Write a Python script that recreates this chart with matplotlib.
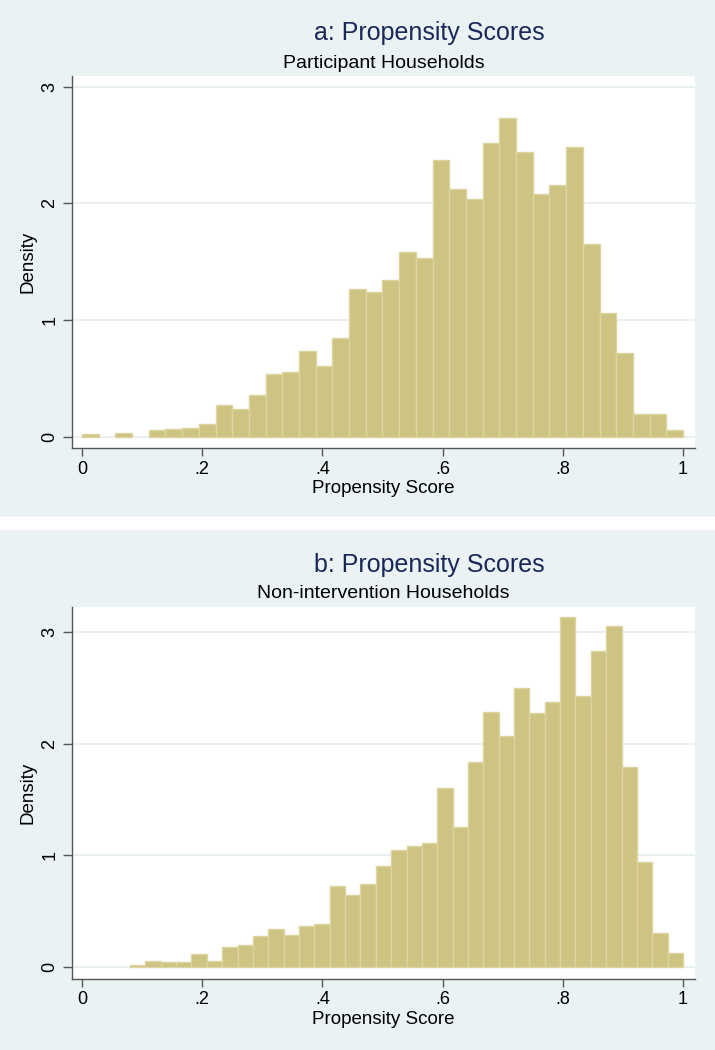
import numpy as np
import matplotlib
matplotlib.use("Agg")
import matplotlib.pyplot as plt
from matplotlib.patches import Rectangle

plt.rcParams['font.family'] = ['Liberation Sans', 'DejaVu Sans']

# ---------------- data ----------------
titles = ["a: Propensity Scores", "b: Propensity Scores"]
subtitles = ["Participant Households", "Non-intervention Households"]
x_label = "Propensity Score"
y_label = "Density"
x_ticks = [0, 0.2, 0.4, 0.6, 0.8, 1.0]
x_tick_labels = ["0", ".2", ".4", ".6", ".8", "1"]
y_ticks = [0, 1, 2, 3]
y_tick_labels = ["0", "1", "2", "3"]

# histogram ranges (min, max of propensity score) and bin densities (36 bins each)
a_range = (0.0, 1.0)
a_density = [0.02, 0.0, 0.03, 0.0, 0.057, 0.063, 0.071, 0.11, 0.27, 0.237,
             0.36, 0.534, 0.554, 0.737, 0.609, 0.843, 1.263, 1.243, 1.34, 1.58,
             1.53, 2.375, 2.12, 2.034, 2.517, 2.73, 2.443, 2.082, 2.156, 2.483,
             1.655, 1.06, 0.72, 0.194, 0.194, 0.054]

b_range = (0.08, 1.0)
b_density = [0.015, 0.057, 0.042, 0.042, 0.114, 0.057, 0.177, 0.198, 0.275, 0.344,
             0.29, 0.365, 0.386, 0.728, 0.647, 0.746, 0.9, 1.05, 1.084, 1.108,
             1.6, 1.249, 1.837, 2.282, 2.071, 2.496, 2.27, 2.368, 3.128, 2.427,
             2.831, 3.05, 1.79, 0.943, 0.308, 0.129]

# ---------------- style ----------------
W, H = 715, 1050
BG = '#EAF2F3'
BAR = '#CDC383'
BAR_EDGE = '#DDD59F'
TITLE_C = '#1A2859'
AXIS_C = '#555555'
GRID_C = '#E6EFF1'

fig = plt.figure(figsize=(W / 100, H / 100), dpi=100)
fig.patch.set_facecolor('white')

def fy(px):
    return 1 - px / H

def fx(px):
    return px / W

panels = [
    dict(bg=(0, 517), ax=(72, 76, 695, 448), ylim=(-0.097, 3.092),
         title_y=40, sub_y=68, data=a_density, rng=a_range),
    dict(bg=(530, 1050), ax=(72, 606.7, 695, 979), ylim=(-0.107, 3.224),
         title_y=572, sub_y=598, data=b_density, rng=b_range),
]

for i, p in enumerate(panels):
    y0, y1 = p['bg']
    fig.patches.append(Rectangle((0, fy(y1)), 1, (y1 - y0) / H,
                                 transform=fig.transFigure, facecolor=BG,
                                 edgecolor='none', zorder=-10))
    l, t, r, b = p['ax']
    ax = fig.add_axes([fx(l), fy(b), fx(r) - fx(l), (b - t) / H])
    ax.set_facecolor('white')

    dens = np.asarray(p['data'])
    edges = np.linspace(p['rng'][0], p['rng'][1], len(dens) + 1)
    width = edges[1] - edges[0]
    mask = dens > 0
    ax.bar(edges[:-1][mask], dens[mask], width=width, align='edge',
           color=BAR, edgecolor=BAR_EDGE, linewidth=1.0, zorder=3)

    ax.set_xlim(-0.0166, 1.020)
    ax.set_ylim(*p['ylim'])
    ax.set_xticks(x_ticks)
    ax.set_xticklabels(x_tick_labels)
    ax.set_yticks(y_ticks)
    ax.set_yticklabels(y_tick_labels)
    ax.yaxis.grid(True, color=GRID_C, linewidth=1.3, zorder=0)
    ax.set_axisbelow(True)

    for s in ['top', 'right']:
        ax.spines[s].set_visible(False)
    for s in ['left', 'bottom']:
        ax.spines[s].set_color(AXIS_C)
        ax.spines[s].set_linewidth(1.0)

    ax.tick_params(axis='x', direction='out', length=6, width=1.0,
                   color=AXIS_C, labelsize=13, pad=3, labelcolor='black')
    ax.tick_params(axis='y', direction='out', length=6.5, width=1.0,
                   color=AXIS_C, labelsize=13, pad=9.5, labelcolor='black',
                   labelrotation=90)
    for lab in ax.get_yticklabels():
        lab.set_horizontalalignment('center')
        lab.set_verticalalignment('center')

    ax.set_xlabel(x_label, fontsize=13.5, color='black')
    ax.xaxis.set_label_coords(0.5, -32 / (b - t))
    ax.set_ylabel(y_label, fontsize=13.5, color='black')
    ax.yaxis.set_label_coords((36 - l) / (r - l), 0.5)

    fig.text(fx(429), fy(p['title_y']), titles[i], fontsize=18, color=TITLE_C,
             ha='center', va='baseline')
    fig.text(fx(383.5), fy(p['sub_y']), subtitles[i], fontsize=14, color='black',
             ha='center', va='baseline')

fig.savefig('out.png', dpi=100, facecolor='white')
